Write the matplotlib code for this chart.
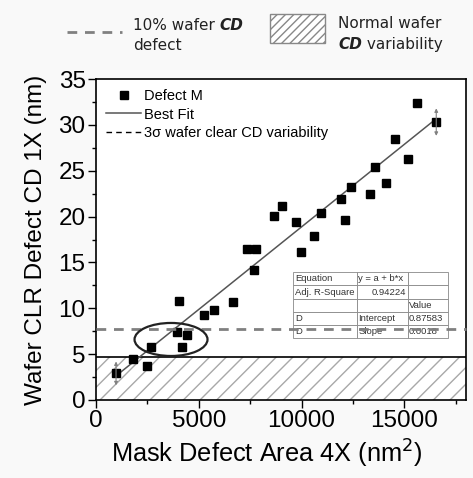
import matplotlib
matplotlib.use("Agg")
import matplotlib.pyplot as plt
from matplotlib.patches import Ellipse, Rectangle
from matplotlib.lines import Line2D
from matplotlib.ticker import MultipleLocator

# ---- data ----
mask_area = [975, 1820, 2470, 2665, 3964, 4060, 4175, 4418, 5263, 5718,
             6660, 7342, 7667, 7780, 8640, 9048, 9747, 9990, 10590, 10965,
             11925, 12100, 12427, 13320, 13597, 14084, 14540, 15171, 15629, 16553]
wafer_cd = [2.9, 4.5, 3.7, 5.8, 7.4, 10.8, 5.8, 7.1, 9.3, 9.8,
            10.7, 16.5, 14.2, 16.5, 20.1, 21.1, 19.4, 16.1, 17.9, 20.4,
            21.9, 19.6, 23.2, 22.5, 25.4, 23.7, 28.5, 26.3, 32.4, 30.3]
fit_intercept = 0.87583
fit_slope = 0.0018
adj_r2 = 0.94224
defect_10pct = 7.7        # 10% wafer CD defect level
normal_var = 4.7          # normal wafer CD variability level
arrow_idx = [0, 29]
arrow_half = [1.3, 1.5]
ellipse_center = (3650, 6.6)
ellipse_size = (3550, 3.6)

x_ticks = [0, 5000, 10000, 15000]
y_ticks = [0, 5, 10, 15, 20, 25, 30, 35]

table_text = [["Equation", "y = a + b*x", ""],
              ["Adj. R-Square", f"{adj_r2:.5f}", ""],
              ["", "", "Value"],
              ["D", "Intercept", f"{fit_intercept:.5f}"],
              ["D", "Slope", f"{fit_slope:.4f}"]]

W, H = 473, 478
fig = plt.figure(figsize=(W / 100, H / 100), dpi=100, facecolor="#f9f9f9")
ax = fig.add_axes([96 / W, (H - 400) / H, 370 / W, 321 / H])
ax.set_facecolor("white")

sans = ["Liberation Sans", "DejaVu Sans"]

# hatched normal variability
ax.axhspan(0, normal_var, facecolor="white", hatch="//", edgecolor="#a8a8a8", lw=0, zorder=1)
ax.axhline(normal_var, color="black", lw=1.2, zorder=2)

# 10% defect dashed line
ax.axhline(defect_10pct, color="#808080", lw=2, ls=(0, (3.5, 2.8)), zorder=6, clip_on=False)

# fit line
xf = [mask_area[0], mask_area[-1]]
yf = [fit_intercept + fit_slope * v for v in xf]
ax.plot(xf, yf, color="#555555", lw=1.1, zorder=4)

# points
ax.plot(mask_area, wafer_cd, "s", color="black", ms=5.5, ls="none", zorder=5)

# error arrows
for i, h in zip(arrow_idx, arrow_half):
    ax.annotate("", xy=(mask_area[i], wafer_cd[i] + h), xytext=(mask_area[i], wafer_cd[i] - h),
                arrowprops=dict(arrowstyle="<|-|>", color="#808080", lw=0.8,
                                mutation_scale=5, shrinkA=0, shrinkB=0), zorder=5)

# ellipse
ax.add_patch(Ellipse(ellipse_center, ellipse_size[0], ellipse_size[1], fill=False,
                     edgecolor="#222222", lw=1.6, zorder=6))

# legend
h1 = Line2D([], [], marker="s", color="black", ls="none", ms=5.5)
h2 = Line2D([], [], color="#555555", lw=1.1)
h3 = Line2D([], [], color="black", lw=1, ls=(0, (4, 3)))
ax.legend([h1, h2, h3], ["Defect M", "Best Fit", "3σ wafer clear CD variability"],
          loc="upper left", frameon=False, handlelength=2.4,
          handletextpad=0.2, labelspacing=0.3, borderaxespad=0.3,
          prop={"family": sans, "size": 10.5})

# table
tbl = ax.table(cellText=table_text, colWidths=[0.41, 0.33, 0.26],
               bbox=[0.532, 0.192, 0.42, 0.206], cellLoc="left", zorder=3)
tbl.auto_set_font_size(False)
for (r, c), cell in tbl.get_celld().items():
    cell.set_edgecolor("#888888")
    cell.set_linewidth(0.6)
    cell.set_facecolor("white")
    cell.PAD = 0.03
    t = cell.get_text()
    t.set_fontsize(6.8)
    t.set_family(sans)
    t.set_color("#333333")
    if (r, c) == (1, 1):
        t.set_horizontalalignment("right")
        cell._loc = "right"
tbl.set_zorder(3)

# axes formatting
ax.set_xlim(0, 18000)
ax.set_ylim(0, 35)
ax.set_xticks(x_ticks)
ax.set_yticks(y_ticks)
ax.xaxis.set_minor_locator(MultipleLocator(2500))
ax.yaxis.set_minor_locator(MultipleLocator(2.5))
ax.tick_params(which="major", direction="out", length=6, width=1, labelsize=17.5, pad=1.5)
ax.tick_params(which="minor", direction="out", length=3, width=1)
for lab in ax.get_xticklabels() + ax.get_yticklabels():
    lab.set_family(sans)
for s in ax.spines.values():
    s.set_linewidth(1.2)
ax.set_xlabel("Mask Defect Area 4X (nm$^2$)", fontsize=18.3, family=sans)
ax.set_ylabel("Wafer CLR Defect CD 1X (nm)", fontsize=17.5, family=sans)
ax.xaxis.set_label_coords((267 - 96) / 370, -0.118)
ax.yaxis.set_label_coords((47 - 96) / 370, 0.5)

# top legend (outside)
def fx(px):
    return px / W

def fy(py):
    return 1 - py / H

fig.add_artist(Line2D([fx(67), fx(122)], [fy(32), fy(32)], color="#808080", lw=2,
                      ls=(0, (3.5, 2.8))))
top_font = ["DejaVu Sans"]
tfs = 11
t1 = fig.text(fx(133), fy(30), "10% wafer ", fontsize=tfs, family=top_font, va="baseline", color="#222222")
fig.text(fx(133), fy(50), "defect", fontsize=tfs, family=top_font, va="baseline", color="#222222")
ax.annotate("CD", xy=(1, 0), xycoords=t1, va="bottom", ha="left", fontsize=tfs,
            family=top_font, weight="bold", style="italic", color="#222222", annotation_clip=False)

fig.add_artist(Rectangle((fx(270), fy(43)), fx(55), 29 / H, transform=fig.transFigure,
                         facecolor="white", edgecolor="#888888", hatch="////", lw=1))
fig.text(fx(338), fy(28), "Normal wafer", fontsize=tfs, family=top_font, va="baseline", color="#222222")
t3 = fig.text(fx(338), fy(49), "CD", fontsize=tfs, family=top_font, va="baseline",
              weight="bold", style="italic", color="#222222")
ax.annotate(" variability", xy=(1, 0), xycoords=t3, va="bottom", ha="left", fontsize=tfs,
            family=top_font, color="#222222", annotation_clip=False)

fig.savefig("out.png", dpi=100, facecolor=fig.get_facecolor())
